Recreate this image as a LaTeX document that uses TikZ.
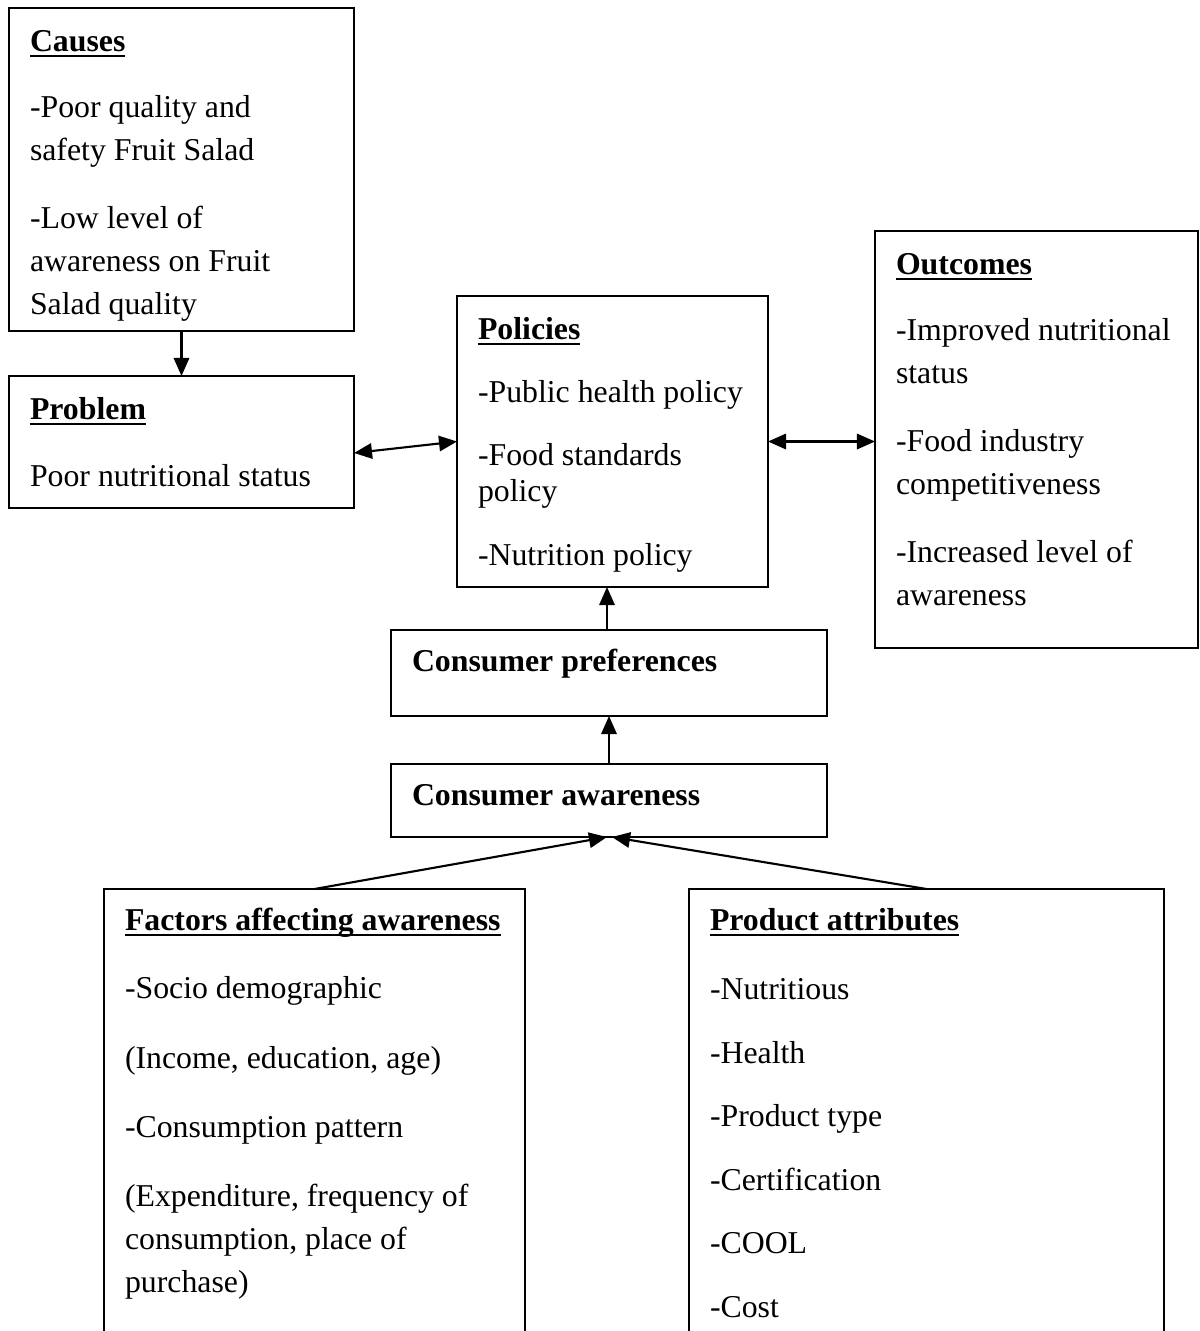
\documentclass[tikz,border=0pt]{standalone}
\usepackage{fontspec}
\setmainfont{Liberation Serif}
\usepackage{tikz}
\usetikzlibrary{arrows.meta}
\newlength\px
\setlength\px{0.3774pt}
\newsavebox\headbox
\newcommand{\headline}[1]{\sbox\headbox{#1}\rlap{\rule[-2.4pt]{\wd\headbox}{0.9pt}}\usebox\headbox}
\newcommand{\heading}[2][43]{\rule{0pt}{#1\px}\textbf{\headline{#2}}}
\newcommand{\boxbody}[4]{\parbox[t][#2][t]{#1}{\fontsize{12}{#3}\selectfont #4}}
\tikzset{
    blockbox/.style = {
        rectangle,
        draw=black,
        line width=0.75pt,
        anchor=north west,
        inner xsep=21\px,
        inner ysep=0pt,
        outer sep=0pt
    },
    link/.style = {
        line width=0.8pt,
        ->
    },
    dlink/.style = {
        line width=0.8pt,
        <->
    }
}

\begin{document}
\begin{tikzpicture}[x=\px, y=-\px, >={Triangle[length=6.8pt,width=5.8pt]}]
    \clip (0,0) rectangle (1199,1331);
    \node [blockbox] (causes) at (9,8) {\boxbody{303\px}{323\px}{16.2pt}{%
        \heading{Causes}\\[24\px]
        -Poor quality and\\
        safety Fruit Salad\\[25\px]
        -Low level of\\
        awareness on Fruit\\
        Salad quality}};
    \node [blockbox] (problem) at (9,376) {\boxbody{303\px}{132\px}{16.2pt}{%
        \heading{Problem}\\[25\px]
        Poor nutritional status}};
    \node [blockbox] (policies) at (457,296) {\boxbody{269\px}{291\px}{13.6pt}{%
        \heading{Policies}\\[27\px]
        -Public health policy\\[27\px]
        -Food standards\\
        policy\\[28\px]
        -Nutrition policy}};
    \node [blockbox] (outcomes) at (875,231) {\boxbody{281\px}{417\px}{16.2pt}{%
        \heading{Outcomes}\\[24\px]
        -Improved nutritional\\
        status\\[25\px]
        -Food industry\\
        competitiveness\\[25\px]
        -Increased level of\\
        awareness}};
    \node [blockbox] (preferences) at (391,630) {\boxbody{394\px}{86\px}{16.2pt}{%
        \rule{0pt}{41\px}\textbf{Consumer preferences}}};
    \node [blockbox] (awareness) at (391,764) {\boxbody{394\px}{73\px}{16.2pt}{%
        \rule{0pt}{41\px}\textbf{Consumer awareness}}};
    \node [blockbox] (factors) at (104,889) {\boxbody{379\px}{460\px}{16.2pt}{%
        \heading[41]{Factors affecting awareness}\\[26\px]
        -Socio demographic\\[27\px]
        (Income, education, age)\\[26\px]
        -Consumption pattern\\[26\px]
        (Expenditure, frequency of\\
        consumption, place of\\
        purchase)}};
    \node [blockbox] (attributes) at (689,889) {\boxbody{433\px}{460\px}{13.6pt}{%
        \heading[41]{Product attributes}\\[33\px]
        -Nutritious\\[28\px]
        -Health\\[27\px]
        -Product type\\[28\px]
        -Certification\\[27\px]
        -COOL\\[28\px]
        -Cost}};

    \draw [link] (causes.south) -- (problem.north);
    \draw [dlink] ([yshift=-11\px]problem.east) -- (policies.west);
    \draw [dlink] (policies.east) -- (policies.east -| outcomes.west);
    \draw [link] ([xshift=-2\px]preferences.north) -- ([xshift=-2\px]preferences.north |- policies.south);
    \draw [link] (awareness.north) -- (preferences.south);
    \draw [link] (factors.north) -- ([xshift=-2\px]awareness.south);
    \draw [link] (attributes.north) -- ([xshift=3\px]awareness.south);
\end{tikzpicture}
\end{document}
